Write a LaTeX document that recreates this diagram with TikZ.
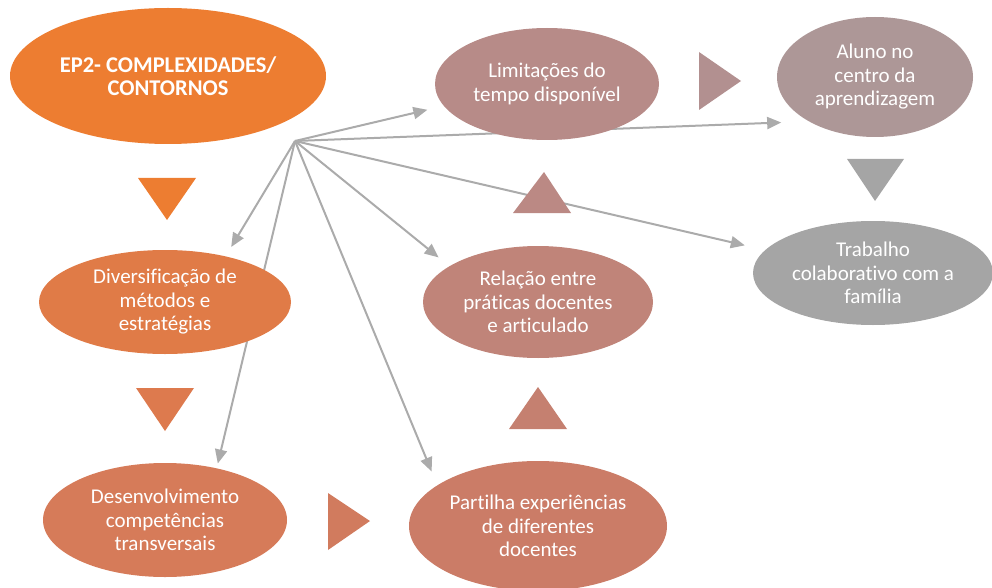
\documentclass[tikz,border=0pt]{standalone}
\usepackage{fontspec}
\setmainfont{Carlito}[Ligatures=NoCommon]
\usetikzlibrary{shapes.geometric,arrows.meta}
\pgfdeclarelayer{bg}
\pgfsetlayers{bg,main}
\definecolor{cEP}{HTML}{ED7D31}
\definecolor{cDiv}{HTML}{E07B47}
\definecolor{cTriB}{HTML}{DD7A4E}
\definecolor{cDes}{HTML}{D67B59}
\definecolor{cTriC}{HTML}{D17B5E}
\definecolor{cPart}{HTML}{CB7C67}
\definecolor{cTriD}{HTML}{C58070}
\definecolor{cRel}{HTML}{C08479}
\definecolor{cTriE}{HTML}{BB8984}
\definecolor{cLim}{HTML}{B78B88}
\definecolor{cTriF}{HTML}{B29090}
\definecolor{cAlu}{HTML}{AD9797}
\definecolor{cTrab}{HTML}{A5A5A5}
\definecolor{linkgray}{HTML}{ABABAB}

\begin{document}
\begin{tikzpicture}[x=1pt,y=-1pt,
    bubble/.style={ellipse,inner sep=0pt,outer sep=0pt,text=white,align=center,
      font=\fontsize{21}{23.5}\selectfont},
    link/.style={draw=linkgray,line width=2pt,-{Triangle[length=14pt,width=12pt]}}]
\useasboundingbox (0,0) rectangle (992,588);
\node[bubble,fill=cEP,minimum width=316pt,minimum height=136pt,
  font=\bfseries\fontsize{22.5}{23.5}\selectfont] (ep) at (168,76) {EP2- COMPLEXIDADES/\\CONTORNOS};
\node[bubble,fill=cLim,minimum width=224pt,minimum height=112pt] (lim) at (547,84) {Limitações do\\tempo disponível};
\node[bubble,fill=cAlu,minimum width=196pt,minimum height=120pt] (alu) at (875,77) {Aluno no\\centro da\\aprendizagem};
\node[bubble,fill=cTrab,minimum width=240pt,minimum height=104pt] (trab) at (873,273) {Trabalho\\colaborativo com a\\família};
\node[bubble,fill=cRel,minimum width=230pt,minimum height=112pt] (rel) at (538,302) {Relação entre\\práticas docentes\\e articulado};
\node[bubble,fill=cPart,minimum width=258pt,minimum height=130pt] (part) at (538,526) {Partilha experiências\\de diferentes\\docentes};
\node[bubble,fill=cDiv,minimum width=252pt,minimum height=104pt] (div) at (165,302) {Diversificação de\\métodos e\\estratégias};
\node[bubble,fill=cDes,minimum width=244pt,minimum height=114pt] (des) at (165,520) {Desenvolvimento\\competências\\transversais};
% triangles between the bubbles
\fill[cEP] (138,178) -- (196,178) -- (167,220) -- cycle;
\fill[cTriB] (136,388) -- (194,388) -- (165,431) -- cycle;
\fill[cTriC] (328,493) -- (370,521) -- (328,550) -- cycle;
\fill[cTriD] (509,429) -- (567,429) -- (538,387) -- cycle;
\fill[cTriE] (513,213) -- (571,213) -- (544,172) -- cycle;
\fill[cTriF] (699,52) -- (741,81) -- (699,110) -- cycle;
\fill[cTrab] (847,159) -- (904,159) -- (875,201) -- cycle;
% arrows from the hub, behind the bubbles
\begin{pgfonlayer}{bg}
\coordinate (hub) at (295,141);
\draw[link,shorten >=17pt] (hub) -- (lim.192.7);
\draw[link,shorten >=28pt] (hub) -- (alu.214.7);
\draw[link,shorten >=21pt] (hub) -- (trab.168.5);
\draw[link,shorten >=14pt] (hub) -- (rel.158.5);
\draw[link,shorten >=15pt] (hub) -- (part.158.9);
\draw[link,shorten >=5pt] (hub) -- (des.45.7);
\draw[link,shorten >=11pt] (hub) -- (div.37.7);
\end{pgfonlayer}
\end{tikzpicture}
\end{document}
